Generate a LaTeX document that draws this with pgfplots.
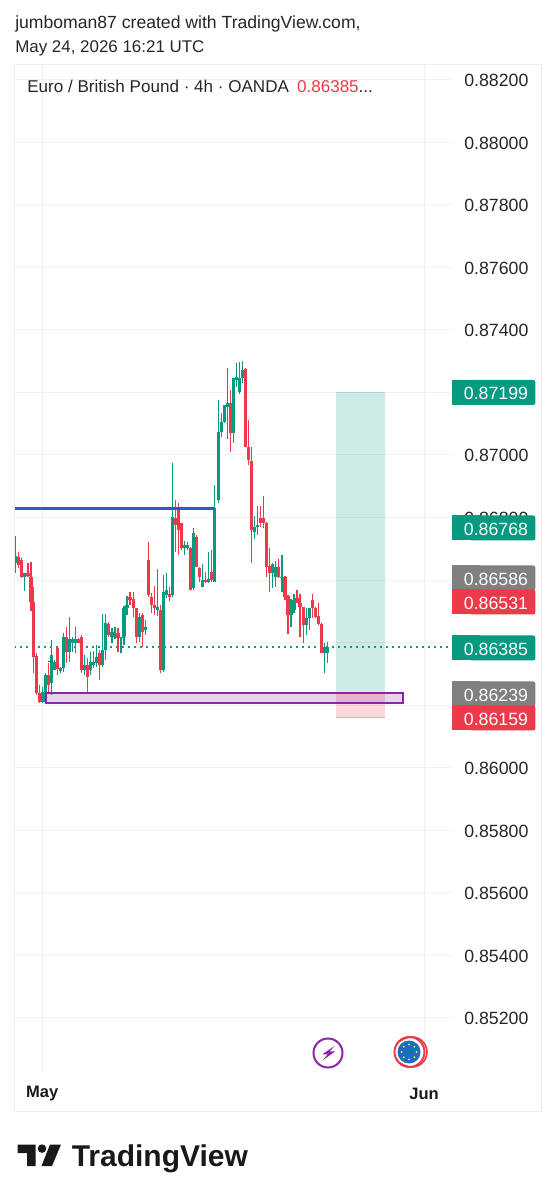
\documentclass[border=0pt]{standalone}
\usepackage{pgfplots}
\usepackage{pgfplotstable}
\usepackage{fontspec}
\setmainfont{Liberation Sans}
\pgfplotsset{compat=1.18}
\definecolor{upc}{HTML}{089981}
\definecolor{dnc}{HTML}{EC3A4A}
\definecolor{greyc}{HTML}{808080}
\definecolor{gridc}{HTML}{F0F1F2}
\definecolor{framec}{HTML}{EEEEEE}
\definecolor{purp}{HTML}{8E24AA}
\definecolor{blu}{HTML}{2A5CCB}
\pgfplotstableread{
x hi lo open close
15.3 .86741 .86622 .86654 .86677
24.3 .86622 .86565 .86610 .86622
42.3 .86258 .86206 .86210 .86242
45.7 .86302 .86206 .86210 .86296
51.7 .86408 .86232 .86270 .86360
54.7 .86344 .86312 .86312 .86338
60.7 .86322 .86302 .86309 .86318
63.7 .86430 .86306 .86318 .86418
69.7 .86482 .86338 .86370 .86411
72.7 .86418 .86370 .86398 .86411
75.7 .86450 .86366 .86398 .86411
84.7 .86360 .86296 .86312 .86328
90.7 .86370 .86296 .86312 .86338
93.7 .86373 .86318 .86328 .86338
96.7 .86392 .86322 .86334 .86354
102.7 .86491 .86322 .86328 .86376
105.7 .86491 .86344 .86376 .86462
112 .86446 .86398 .86418 .86434
115 .86450 .86411 .86418 .86430
121 .86418 .86366 .86414 .86418
124 .86517 .86392 .86418 .86510
127 .86549 .86488 .86510 .86520
139.3 .86494 .86402 .86418 .86482
145.3 .86472 .86424 .86440 .86450
157.7 .86635 .86485 .86504 .86514
163.7 .86616 .86306 .86312 .86562
166.7 .86622 .86542 .86552 .86568
172.7 .86974 .86546 .86552 .86802
184.7 .86725 .86680 .86702 .86712
187.7 .86722 .86696 .86702 .86712
193.7 .86766 .86568 .86574 .86750
202.7 .86651 .86578 .86578 .86600
208.7 .86690 .86590 .86594 .86603
214.7 .86904 .86594 .86594 .86830
218.7 .87176 .86846 .86856 .87074
221.7 .87134 .87058 .87074 .87106
224.7 .87160 .87102 .87106 .87160
227.7 .87278 .87051 .87154 .87166
233.3 .87246 .87038 .87070 .87246
236.3 .87294 .87218 .87240 .87250
239.3 .87298 .87195 .87202 .87246
242.3 .87301 .87230 .87246 .87272
254.3 .86805 .86731 .86754 .86770
257.3 .86837 .86744 .86770 .86776
272.7 .86654 .86574 .86622 .86651
275.7 .86661 .86578 .86610 .86642
282 .86680 .86562 .86606 .86610
291 .86539 .86450 .86488 .86530
294 .86555 .86494 .86504 .86536
306.3 .86510 .86424 .86456 .86478
309.3 .86510 .86440 .86478 .86510
324.7 .86398 .86302 .86366 .86386
327.7 .86402 .86334 .86366 .86385
}\upbars
\pgfplotstableread{
x hi lo open close
18.3 .86690 .86638 .86674 .86648
21.3 .86670 .86606 .86664 .86610
28 .86654 .86610 .86622 .86613
31 .86658 .86501 .86610 .86530
33.7 .86578 .86302 .86530 .86354
36.7 .86366 .86232 .86357 .86238
39.3 .86264 .86206 .86238 .86210
48.7 .86334 .86242 .86296 .86264
57.7 .86386 .86296 .86382 .86315
66.7 .86450 .86334 .86418 .86370
78.7 .86414 .86398 .86411 .86398
81.7 .86424 .86302 .86418 .86312
87.7 .86350 .86235 .86328 .86290
99.7 .86376 .86280 .86366 .86328
108.7 .86466 .86418 .86459 .86424
118 .86446 .86370 .86430 .86414
130 .86562 .86520 .86546 .86536
133.7 .86562 .86482 .86539 .86510
136.7 .86510 .86398 .86510 .86418
142.7 .86494 .86386 .86488 .86434
148.3 .86722 .86546 .86664 .86552
151.3 .86558 .86494 .86546 .86520
154.3 .86581 .86488 .86520 .86510
160.7 .86520 .86302 .86504 .86312
169.7 .86578 .86533 .86555 .86546
175.7 .86856 .86690 .86798 .86776
178.7 .86846 .86680 .86824 .86760
181.7 .86782 .86696 .86782 .86702
190.7 .86706 .86568 .86702 .86568
196.7 .86744 .86642 .86738 .86642
199.7 .86642 .86594 .86638 .86610
205.7 .86626 .86590 .86600 .86594
211.7 .86696 .86594 .86626 .86600
230.3 .87208 .87010 .87166 .87070
245.3 .87278 .87026 .87275 .87026
248.3 .87112 .86968 .87026 .86984
251.3 .87026 .86654 .86981 .86760
260.7 .86837 .86770 .86798 .86782
263.7 .86869 .86766 .86798 .86782
266.7 .86786 .86610 .86782 .86642
269.7 .86702 .86562 .86645 .86622
278.7 .86667 .86606 .86642 .86610
285 .86613 .86536 .86610 .86546
288 .86552 .86427 .86549 .86488
297 .86568 .86526 .86542 .86526
300 .86555 .86418 .86526 .86514
303.3 .86514 .86398 .86514 .86456
312.3 .86555 .86478 .86536 .86510
315.3 .86514 .86478 .86510 .86482
318.3 .86526 .86456 .86485 .86459
321.3 .86462 .86366 .86459 .86366
}\downbars
\newcommand\candles[2]{%
\addplot[draw=none,mark=none,forget plot,error bars/.cd,y dir=both,y explicit,error mark=none,
  error bar style={line width=1.15pt,color=#2}]
  table[x=x,y expr={\thisrow{lo}},y error plus expr={\thisrow{hi}-\thisrow{lo}},y error minus expr={0}]{#1};
\addplot[draw=none,mark=none,forget plot,error bars/.cd,y dir=both,y explicit,error mark=none,
  error bar style={line width=2.3pt,color=#2}]
  table[x=x,y expr={min(\thisrow{open},\thisrow{close})},y error plus expr={abs(\thisrow{close}-\thisrow{open})},y error minus expr={0}]{#1};
}
\newcommand\tagbox[3]{%
  \fill[#1,rounded corners=1.5pt] (470,#2-12.5) -- (535.3,#2-12.5) -- (535.3,#2+12.5) -- (470,#2+12.5) -- cycle;
  \fill[#1] (452,#2-12.5) rectangle (480,#2+12.5);
  \node[text=white,anchor=center,inner sep=0pt,font=\fontsize{13.3}{16}\selectfont] at (496,#2+1) {#3};
}
\begin{document}
\begin{tikzpicture}
\path[use as bounding box] (-10.5pt,-96pt) rectangle (406.5pt,804pt);
\begin{axis}[
  at={(0pt,0pt)},anchor=south west,
  scale only axis,width=327.75pt,height=755.25pt,
  xmin=14,xmax=451,ymin=0.850267,ymax=0.882473,
  clip=false,
  axis line style={draw=none},
  major tick length=0pt,
  tick style={draw=none},
  grid=both,
  major grid style={draw=gridc,line width=0.75pt},
  xtick={42.3,424},xticklabels={May,Jun},
  x tick label style={font=\fontsize{12.4}{15}\selectfont\bfseries,anchor=center,yshift=-16.5pt,text=black!90},
  ytick={0.852,0.854,0.856,0.858,0.860,0.862,0.864,0.866,0.868,0.870,0.872,0.874,0.876,0.878,0.880,0.882},
  yticklabels={0.85200,0.85400,0.85600,0.85800,0.86000,,,,0.86800,0.87000,,0.87400,0.87600,0.87800,0.88000,0.88200},
  yticklabel pos=right,
  y tick label style={font=\fontsize{13.3}{16}\selectfont,anchor=west,xshift=9.75pt,yshift=-0.6pt,inner sep=0pt,text=black!85},
  scaled y ticks=false,
]
% position tool
\addplot[draw=none,fill=upc,fill opacity=0.2,forget plot] coordinates {(336,0.87199)(385,0.87199)(385,0.86239)(336,0.86239)} --cycle;
\addplot[draw=upc,opacity=0.3,line width=0.75pt,forget plot] coordinates {(336,0.87199)(385,0.87199)};
\addplot[draw=none,fill=dnc,fill opacity=0.2,forget plot] coordinates {(336,0.86239)(385,0.86239)(385,0.86159)(336,0.86159)} --cycle;
\addplot[draw=dnc,opacity=0.3,line width=0.75pt,forget plot] coordinates {(336,0.86159)(385,0.86159)};
% current price
\addplot[draw=upc,line width=1.2pt,dash pattern=on 1.2pt off 3.3pt,forget plot] coordinates {(14,0.86385)(451,0.86385)};
% candles
\candles{\upbars}{upc}
\candles{\downbars}{dnc}
% purple zone
\addplot[draw=purp,line width=1.3pt,fill=purp,fill opacity=0.2,forget plot] coordinates {(46,0.86239)(403,0.86239)(403,0.86206)(46,0.86206)} --cycle;
% blue lines
\addplot[draw=blu,line width=2.2pt,forget plot] coordinates {(15,0.86830)(214,0.86830)};
\addplot[draw=blu!80!purp,line width=1.2pt,forget plot] coordinates {(48,0.86340)(53,0.86340)};
\end{axis}
\begin{scope}[x=0.75pt,y=-0.75pt,shift={(-10.5pt,804pt)}]
\draw[framec,line width=0.75pt] (14,65) rectangle (541,1112);
% header
\node[anchor=base west,inner sep=0pt,font=\fontsize{13.2}{15}\selectfont,text=black!85] at (15,29) {jumboman87 created with TradingView.com,};
\node[anchor=base west,inner sep=0pt,font=\fontsize{12.7}{15}\selectfont,text=black!85] at (15,53) {May 24, 2026 16:21 UTC};
\node[anchor=base west,inner sep=0pt,font=\fontsize{12.8}{15}\selectfont,text=black!85] at (27,93) {Euro / British Pound · 4h · OANDA\hspace{6pt}\textcolor{dnc}{0.86385}...};
% tags
\tagbox{upc}{392.5}{0.87199}
\tagbox{upc}{528}{0.86768}
\tagbox{greyc}{578}{0.86586}
\tagbox{dnc}{602}{0.86531}
\tagbox{upc}{648}{0.86385}
\tagbox{greyc}{694}{0.86239}
\tagbox{dnc}{718}{0.86159}
% bolt icon
\draw[purp,line width=1.5pt] (328,1053) circle[radius=14.5];
\fill[purp] (334.5,1046) -- (322,1054.5) -- (327.5,1054.5) -- (322.5,1060.5) -- (335,1051.5) -- (329.5,1051.5) -- cycle;
% EU icon
\definecolor{eublue}{HTML}{1C6EBD}
\draw[dnc,line width=1.2pt] (412,1052) circle[radius=15];
\draw[dnc,line width=1.5pt] (409.5,1052) circle[radius=15];
\fill[white] (409,1052) circle[radius=13.2];
\fill[eublue] (409,1052) circle[radius=11.5];
\foreach \a in {0,45,...,315}{\fill[yellow!60!white] (409,1052) ++(\a:7.5) circle[radius=1];}
% logo
\fill[black!90] (17.5,1144.5) -- (35.7,1144.5) -- (35.7,1166) -- (27,1166) -- (27,1153) -- (17.5,1153) -- cycle;
\fill[black!90] (42,1148.6) circle[radius=4.3];
\fill[black!90] (50,1144.5) -- (61,1144.5) -- (52,1166) -- (41.5,1166) -- cycle;
\node[anchor=base west,inner sep=0pt,font=\fontsize{22.5}{26}\selectfont\bfseries,text=black!90] at (71.5,1166) {TradingView};
\end{scope}
\end{tikzpicture}
\end{document}
